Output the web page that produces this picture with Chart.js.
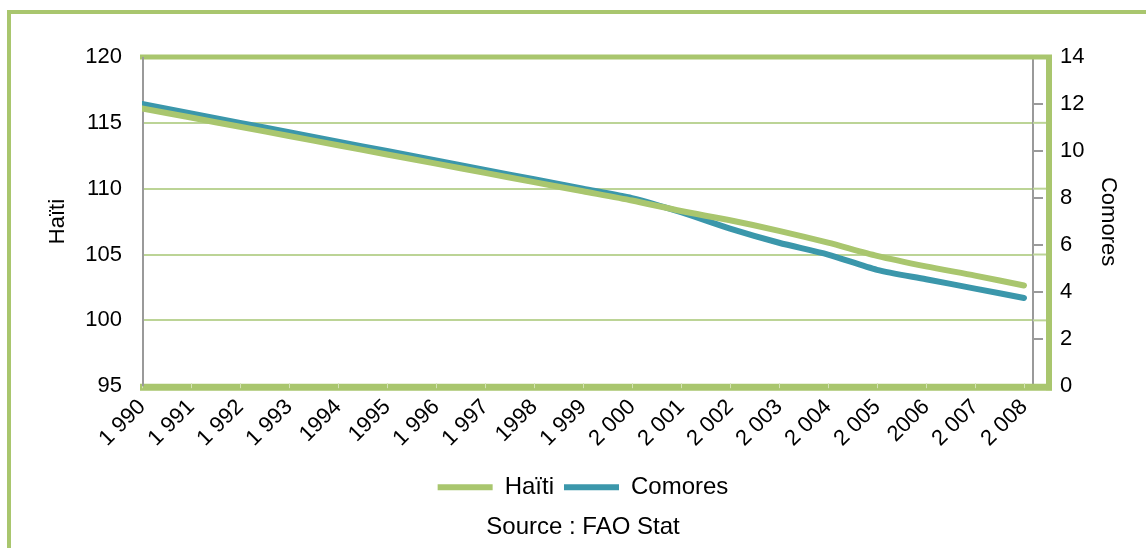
<!DOCTYPE html>
<html>
<head>
<meta charset="utf-8">
<script src="https://cdn.jsdelivr.net/npm/chart.js@4/dist/chart.umd.min.js"></script>
<style>
  body { margin: 0; background: #fff; overflow: hidden; }
  #frame { position: absolute; left: 7px; top: 10px; width: 1300px; height: 700px;
           border-left: 4px solid #a9c66e; border-top: 4px solid #a9c66e; }
  #wrap { position: absolute; left: 0; top: 0; width: 1146px; height: 548px; }
</style>
</head>
<body>
<div id="frame"></div>
<div id="wrap"><canvas id="chart" width="1146" height="548"></canvas></div>
<script>
const years = [1990, 1991, 1992, 1993, 1994, 1995, 1996, 1997, 1998, 1999,
               2000, 2001, 2002, 2003, 2004, 2005, 2006, 2007, 2008];
const yearLabels = ["1 990", "1 991", "1 992", "1 993", "1994", "1995", "1 996", "1 997", "1998", "1 999",
                    "2 000", "2 001", "2 002", "2 003", "2 004", "2 005", "2006", "2 007", "2 008"];
const haiti = [116.1, 115.4, 114.7, 114.0, 113.3, 112.6, 111.9, 111.2, 110.5, 109.8,
               109.1, 108.3, 107.6, 106.8, 105.9, 104.9, 104.1, 103.4, 102.65];
const comores = [12.0, 11.6, 11.2, 10.8, 10.4, 10.0, 9.6, 9.2, 8.8, 8.4,
                 8.0, 7.4, 6.7, 6.1, 5.6, 4.95, 4.55, 4.15, 3.75];

const green = "#a9c66e";
const blue = "#3b97ab";
const gridGreen = "#bcd496";
const grey = "#9a9a9a";
const font = { family: "'Liberation Sans', Arial, sans-serif", size: 22 };
const bigFont = { family: "'Liberation Sans', Arial, sans-serif", size: 24, weight: "normal" };

// green plot frame, drawn around the chart area and a bit past the right axis
const framePlugin = {
  id: "frame",
  beforeDatasetsDraw(chart) {
    const { ctx, chartArea: a, scales } = chart;
    const fr = a.right + 16;
    ctx.save();
    ctx.strokeStyle = gridGreen;
    ctx.lineWidth = 2;
    scales.y.ticks.forEach(t => {
      const py = scales.y.getPixelForValue(t.value);
      ctx.beginPath(); ctx.moveTo(a.right, py); ctx.lineTo(fr, py); ctx.stroke();
    });
    ctx.strokeStyle = green;
    ctx.lineWidth = 5;
    ctx.beginPath(); ctx.moveTo(a.left - 2, a.top); ctx.lineTo(fr + 3, a.top); ctx.stroke();
    ctx.lineWidth = 7;
    ctx.beginPath(); ctx.moveTo(a.left - 2, a.bottom + 1); ctx.lineTo(fr + 3, a.bottom + 1); ctx.stroke();
    ctx.lineWidth = 6;
    ctx.beginPath(); ctx.moveTo(fr, a.top - 2); ctx.lineTo(fr, a.bottom + 4); ctx.stroke();
    ctx.strokeStyle = "#d4e3b6";
    ctx.lineWidth = 1;
    scales.x.ticks.forEach(t => {
      const px = Math.round(scales.x.getPixelForValue(t.value)) + 0.5;
      ctx.beginPath(); ctx.moveTo(px, a.bottom - 3); ctx.lineTo(px, a.bottom + 2); ctx.stroke();
    });
    ctx.strokeStyle = grey;
    ctx.lineWidth = 2;
    ctx.beginPath(); ctx.moveTo(a.left + 1, a.top); ctx.lineTo(a.left + 1, a.bottom); ctx.stroke();
    ctx.restore();
  }
};

new Chart(document.getElementById("chart"), {
  type: "line",
  data: {
    datasets: [
      { label: "Haïti", data: years.map((x, i) => ({ x, y: haiti[i] })), yAxisID: "y",
        borderColor: green, backgroundColor: green, borderWidth: 6, pointRadius: 0,
        tension: 0.25, borderCapStyle: "round", borderJoinStyle: "round" },
      { label: "Comores", data: years.map((x, i) => ({ x, y: comores[i] })), yAxisID: "y2",
        borderColor: blue, backgroundColor: blue, borderWidth: 6, pointRadius: 0,
        tension: 0.25, borderCapStyle: "round", borderJoinStyle: "round" }
    ]
  },
  options: {
    responsive: false,
    animation: false,
    layout: { padding: { left: 41, right: 21, top: 57, bottom: 6 } },
    plugins: {
      legend: {
        position: "bottom",
        labels: {
          font: bigFont, color: "#000", boxWidth: 55, boxHeight: 6, padding: 10,
          generateLabels: chart => chart.data.datasets.map((d, i) => ({
            text: d.label, fillStyle: d.borderColor, strokeStyle: d.borderColor,
            lineWidth: 0, datasetIndex: i, fontColor: "#000"
          }))
        }
      },
      title: { display: true, position: "bottom", text: "Source : FAO Stat", font: bigFont,
               color: "#000", padding: { top: 4, bottom: 0 } },
      tooltip: { enabled: false }
    },
    scales: {
      x: {
        type: "linear",
        min: 1990,
        max: 2008 + 9 / 49,
        afterBuildTicks: s => { s.ticks = years.map(v => ({ value: v })); },
        afterFit: s => { s.height = 79; },
        ticks: { font, color: "#000", autoSkip: false, minRotation: 45, maxRotation: 45, padding: 0,
                 callback: (v, i) => yearLabels[i] },
        grid: { display: false },
        border: { display: false }
      },
      y: {
        position: "left",
        min: 95, max: 120,
        afterFit: s => { s.width = 101; },
        ticks: { stepSize: 5, font, color: "#000", padding: 20 },
        grid: { color: gridGreen, lineWidth: 2, drawTicks: false },
        border: { display: false },
        title: { display: true, text: "Haïti", font, color: "#000", padding: 4 }
      },
      y2: {
        position: "right",
        min: 0, max: 14,
        afterFit: s => { s.width = 92; },
        ticks: { stepSize: 2, font, color: "#000", padding: 17 },
        grid: { drawOnChartArea: false, color: grey, lineWidth: 2, tickLength: 10 },
        border: { display: true, color: grey, width: 2 },
        title: { display: true, text: "Comores", font, color: "#000", padding: 4 }
      }
    }
  },
  plugins: [framePlugin]
});
</script>
</body>
</html>
